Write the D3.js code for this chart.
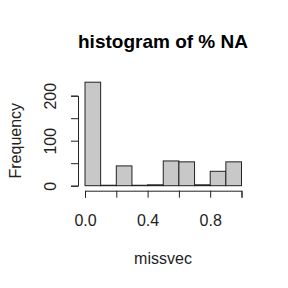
<!DOCTYPE html>
<html>
<head>
<meta charset="utf-8">
<script src="https://cdn.jsdelivr.net/npm/d3@7"></script>
<style>
  body { margin: 0; background: #fff; }
  text { font-family: "Liberation Sans", Arial, sans-serif; }
</style>
</head>
<body>
<div id="chart"></div>
<script>
// Histogram bins (breaks) and counts
const binStarts = [0.0, 0.1, 0.2, 0.3, 0.4, 0.5, 0.6, 0.7, 0.8, 0.9];
const binWidth = 0.1;
const counts = [230, 1, 44, 1, 2, 55, 53, 2, 32, 53];
const xTicks = [0.0, 0.2, 0.4, 0.6, 0.8, 1.0];
const xTickLabels = ["0.0", "", "0.4", "", "0.8", ""];
const yTicks = [0, 50, 100, 150, 200];
const yTickLabels = ["0", "", "100", "", "200"];

const width = 288, height = 288;

const svg = d3.select("#chart")
    .append("svg")
    .attr("width", width)
    .attr("height", height);

// Scales: data 0..1 maps to the pixel spots of the ticks
const xScale = d3.scaleLinear()
    .domain([0, 1])
    .range([85, 241.5]);

const yScale = d3.scaleLinear()
    .domain([0, 200])
    .range([185.7, 95.7]);

// Bars
svg.selectAll("rect.bar")
    .data(counts)
    .join("rect")
    .attr("class", "bar")
    .attr("x", (d, i) => xScale(binStarts[i]))
    .attr("y", d => yScale(d))
    .attr("width", xScale(binWidth) - xScale(0))
    .attr("height", d => yScale(0) - yScale(d))
    .attr("fill", "#c8c8c8")
    .attr("stroke", "#222")
    .attr("stroke-width", 1);

// X axis (offset below plot like R)
const xAxis = d3.axisBottom(xScale)
    .tickValues(xTicks)
    .tickSize(7)
    .tickPadding(17)
    .tickFormat((d, i) => xTickLabels[i]);

const gx = svg.append("g")
    .attr("transform", "translate(0,190.7)")
    .call(xAxis);
gx.select(".domain").attr("stroke", "#222");
gx.selectAll(".tick line").attr("stroke", "#222");
gx.selectAll(".tick text")
    .attr("font-size", 16)
    .attr("fill", "#222")
    .attr("font-family", "Liberation Sans, Arial, sans-serif");

// Y axis
const yAxis = d3.axisLeft(yScale)
    .tickValues(yTicks)
    .tickSize(7)
    .tickFormat((d, i) => yTickLabels[i]);

const gy = svg.append("g")
    .attr("transform", "translate(78,0)")
    .call(yAxis);
gy.select(".domain").attr("stroke", "#222");
gy.selectAll(".tick line").attr("stroke", "#222");
gy.selectAll(".tick text")
    .attr("font-size", 16)
    .attr("fill", "#222")
    .attr("font-family", "Liberation Sans, Arial, sans-serif")
    .attr("text-anchor", "middle")
    .attr("transform", "rotate(-90)")
    .attr("x", 0)
    .attr("y", -28)
    .attr("dy", "0.35em");

// Title
svg.append("text")
    .attr("x", 163)
    .attr("y", 48)
    .attr("text-anchor", "middle")
    .attr("font-size", 19)
    .attr("font-weight", "bold")
    .attr("fill", "#000")
    .text("histogram of % NA");

// Axis labels
svg.append("text")
    .attr("x", 163)
    .attr("y", 264)
    .attr("text-anchor", "middle")
    .attr("font-size", 16)
    .attr("fill", "#222")
    .text("missvec");

svg.append("text")
    .attr("transform", "translate(21,140.7) rotate(-90)")
    .attr("text-anchor", "middle")
    .attr("font-size", 16)
    .attr("fill", "#222")
    .text("Frequency");
</script>
</body>
</html>
